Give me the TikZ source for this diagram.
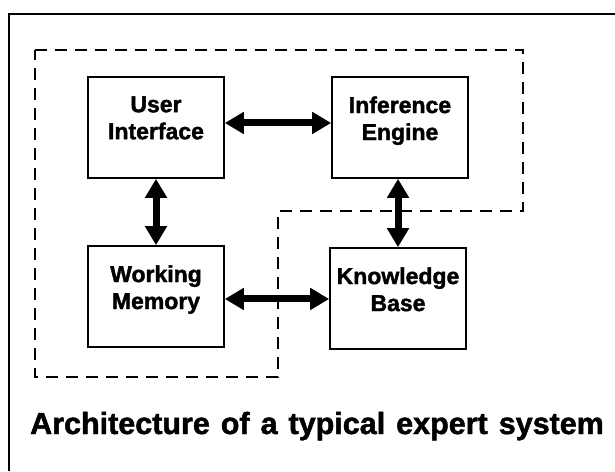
\documentclass[tikz,border=0pt]{standalone}
\usepackage{fontspec}
\setmainfont{Liberation Sans}
\newfontfamily\heavyfont{Liberation Sans Bold}[FakeBold=1.6]
\usetikzlibrary{arrows.meta}
\begin{document}
\begin{tikzpicture}[x=1pt,y=1pt,
  box/.style={draw, line width=1.6pt, minimum width=136pt, minimum height=101pt, inner sep=0pt},
  boxlabel/.style={anchor=north, inner sep=0pt, align=center,
    font=\heavyfont\fontsize{23}{27}\selectfont},
  link/.style={line width=7pt,
    {Triangle[length=19pt,width=21pt]}-{Triangle[length=19pt,width=21pt]}},
  region/.style={dash pattern=on 12pt off 8pt, line width=1.5pt},
  frame/.style={line width=2.6pt, line join=miter}
]
\useasboundingbox (0,0) rectangle (615,471);

% outer frame (top and left edges)
\draw[frame] (9,0) -- (9,457) -- (620,457);

% dashed region around the system components
\draw[region] (35,421) -- (523,421) -- (523,260) -- (278,260)
  -- (278,94) -- (35,94) -- cycle;

% component boxes
\node[box] (ui) at (156,343.5) {};
\node[box] (ie) at (400,343.5) {};
\node[box] (wm) at (156,174.5) {};
\node[box] (kb) at (398,172.5) {};

\node[boxlabel] (uit) at ([yshift=-20pt]ui.north) {User\\Interface};
\node[boxlabel] (iet) at ([yshift=-20pt]ie.north) {Inference\\Engine};
\node[boxlabel] (wmt) at ([yshift=-20pt]wm.north) {Working\\Memory};
\node[boxlabel] (kbt) at ([yshift=-20pt]kb.north) {Knowledge\\Base};

% two-way links
\draw[link] ([yshift=4.5pt]ui.east) -- ([yshift=4.5pt]ie.west);
\draw[link] ([yshift=-2.5pt]wm.east) -- ([yshift=-0.5pt]kb.west);
\draw[link] (ui.south) -- (wm.north);
\draw[link] ([xshift=-2pt]ie.south) -- (kb.north);

% caption
\node[anchor=base west, inner sep=0pt, font=\heavyfont\fontsize{30.5}{36}\selectfont]
  (cap) at (30,37) {\spaceskip=11pt Architecture of a typical expert system};
\end{tikzpicture}
\end{document}
